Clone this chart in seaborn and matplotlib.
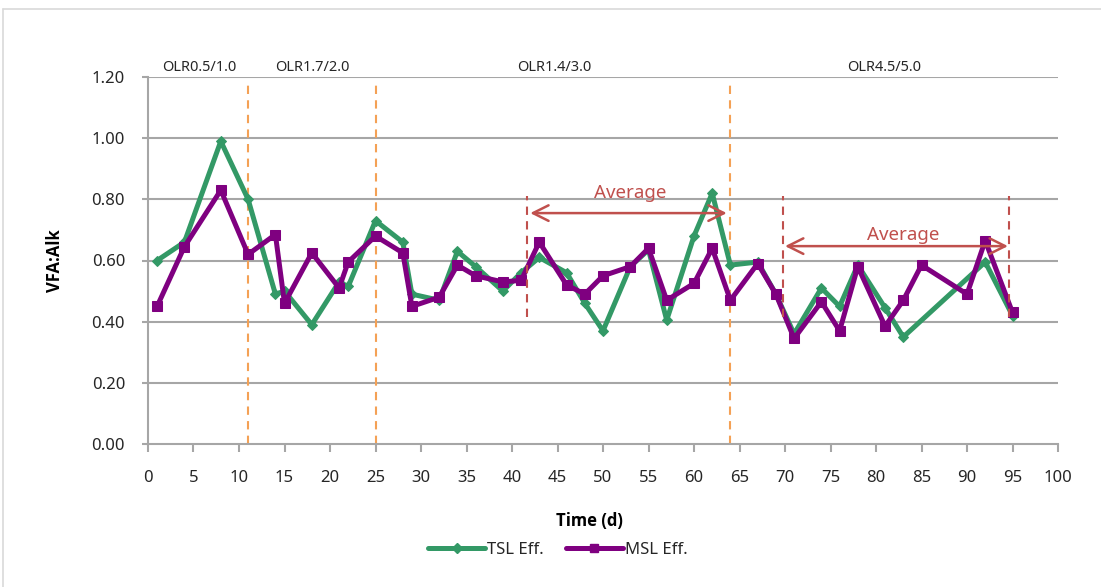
import matplotlib
matplotlib.use("Agg")
import matplotlib.pyplot as plt
import seaborn as sns
import pandas as pd
from matplotlib.lines import Line2D

# ---- data ----
days_tsl = [1, 4, 8, 11, 14, 15, 18, 21, 22, 25, 28, 29, 32, 34, 36, 39, 41, 43, 46, 48, 50,
            53, 55, 57, 60, 62, 64, 67, 69, 71, 74, 76, 78, 81, 83, 92, 95]
tsl_eff = [0.60, 0.66, 0.99, 0.80, 0.49, 0.50, 0.39, 0.53, 0.515, 0.73, 0.66, 0.49, 0.47, 0.63,
           0.58, 0.50, 0.56, 0.61, 0.56, 0.46, 0.37, 0.58, 0.635, 0.405, 0.68, 0.82, 0.585,
           0.595, 0.49, 0.36, 0.51, 0.45, 0.585, 0.445, 0.35, 0.595, 0.42]
days_msl = [1, 4, 8, 11, 14, 15, 18, 21, 22, 25, 28, 29, 32, 34, 36, 39, 41, 43, 46, 48, 50,
            53, 55, 57, 60, 62, 64, 67, 69, 71, 74, 76, 78, 81, 83, 85, 90, 92, 95]
msl_eff = [0.45, 0.645, 0.83, 0.62, 0.685, 0.46, 0.625, 0.51, 0.595, 0.68, 0.625, 0.45, 0.48,
           0.585, 0.55, 0.53, 0.535, 0.66, 0.52, 0.49, 0.55, 0.58, 0.64, 0.47, 0.525, 0.64,
           0.47, 0.59, 0.49, 0.345, 0.465, 0.37, 0.58, 0.385, 0.47, 0.585, 0.49, 0.665, 0.43]
phase_bounds = [11, 25, 64]
phase_labels = ["OLR0.5/1.0", "OLR1.7/2.0", "OLR1.4/3.0", "OLR4.5/5.0"]
phase_label_x = [5.6, 18.1, 44.6, 80.9]
avg_bounds = [41.6, 69.8, 94.6]
avg_arrows = [(42.0, 63.6, 0.755), (70.0, 94.5, 0.647)]
avg_label_pos = [(53.0, 0.82), (83.0, 0.683)]
x_ticks = list(range(0, 101, 5))
y_ticks = [0.0, 0.2, 0.4, 0.6, 0.8, 1.0, 1.2]

GREEN = "#339966"
PURPLE = "#7F0080"
ORANGE = "#F4A155"
RED = "#C0504D"
GRIDC = "#A6A6A6"

sns.set_theme(style="white")
plt.rcParams["font.family"] = ["Noto Sans", "DejaVu Sans"]

df_t = pd.DataFrame({"day": days_tsl, "val": tsl_eff})
df_m = pd.DataFrame({"day": days_msl, "val": msl_eff})

fig = plt.figure(figsize=(11.01, 5.87), dpi=100)
ax = fig.add_axes([148 / 1101, 1 - 444 / 587, 910 / 1101, 367 / 587])

# frame lines of chart area
fig.add_artist(Line2D([3 / 1101, 3 / 1101], [0, 1 - 9 / 587], transform=fig.transFigure,
                      color="#D9D9D9", lw=1.2))
fig.add_artist(Line2D([3 / 1101, 1], [1 - 9 / 587, 1 - 9 / 587], transform=fig.transFigure,
                      color="#D9D9D9", lw=1.2))

for yv in y_ticks[1:]:
    ax.axhline(yv, color=GRIDC, lw=1.5, zorder=1)

sns.lineplot(data=df_t, x="day", y="val", ax=ax, color=GREEN, lw=3.6, marker="D",
             markersize=5.5, markeredgecolor=GREEN, estimator=None, zorder=3)
sns.lineplot(data=df_m, x="day", y="val", ax=ax, color=PURPLE, lw=3.6, marker="s",
             markersize=6.5, markeredgecolor=PURPLE, estimator=None, zorder=4)

for b in phase_bounds:
    ax.plot([b, b], [0, 1.18], color=ORANGE, lw=1.5, ls=(0, (4, 3)), zorder=2)
for b in avg_bounds:
    ax.plot([b, b], [0.415, 0.81], color=RED, lw=1.5, ls=(0, (4, 3)), zorder=5)
for x0, x1, yv in avg_arrows:
    ax.annotate("", xy=(x0, yv), xytext=(x1, yv),
                arrowprops=dict(arrowstyle="<->", color=RED, lw=1.8, mutation_scale=28,
                                shrinkA=0, shrinkB=0), zorder=6)
for (xx, yy) in avg_label_pos:
    ax.text(xx, yy, "Average", color=RED, fontsize=13.5, ha="center", va="center", zorder=6)

for lab, xx in zip(phase_labels, phase_label_x):
    ax.text(xx, 1.205, lab, fontsize=10.5, color="#262626", ha="center", va="bottom")

ax.set_xlim(0, 100)
ax.set_ylim(0, 1.2)
ax.set_xticks(x_ticks)
ax.set_yticks(y_ticks)
ax.set_yticklabels([f"{v:.2f}" for v in y_ticks])
ax.tick_params(axis="x", direction="out", length=6, width=1.5, color=GRIDC, pad=13,
               labelsize=12, labelcolor="#262626", bottom=True)
ax.tick_params(axis="y", direction="out", length=4.5, width=1.5, color=GRIDC, pad=12,
               labelsize=12, labelcolor="#262626", left=True)
for s in ["top", "right"]:
    ax.spines[s].set_visible(False)
ax.spines["left"].set_color(GRIDC)
ax.spines["left"].set_linewidth(1.5)
ax.spines["bottom"].set_color(GRIDC)
ax.spines["bottom"].set_linewidth(1.5)

ax.set_xlabel("Time (d)", fontsize=12, fontweight="bold", color="black",
              family=["Open Sans", "DejaVu Sans"])
ax.xaxis.set_label_coords((589 - 148) / 910, -(521 - 444) / 367)
ax.xaxis.label.set_va("center")
ax.set_ylabel("VFA:Alk", fontsize=12, fontweight="bold", color="black", labelpad=20,
              family=["Open Sans", "DejaVu Sans"])

handles = [Line2D([], [], color=GREEN, lw=3.6, marker="D", markersize=5.5),
           Line2D([], [], color=PURPLE, lw=3.6, marker="s", markersize=6)]
fig.legend(handles, ["TSL Eff.", "MSL Eff."], loc="center", bbox_to_anchor=(558 / 1101, 1 - 550 / 587),
           ncol=2, frameon=False, fontsize=12, handlelength=3.4, handletextpad=0.15,
           columnspacing=1.3)

fig.savefig("out.png", dpi=100)
